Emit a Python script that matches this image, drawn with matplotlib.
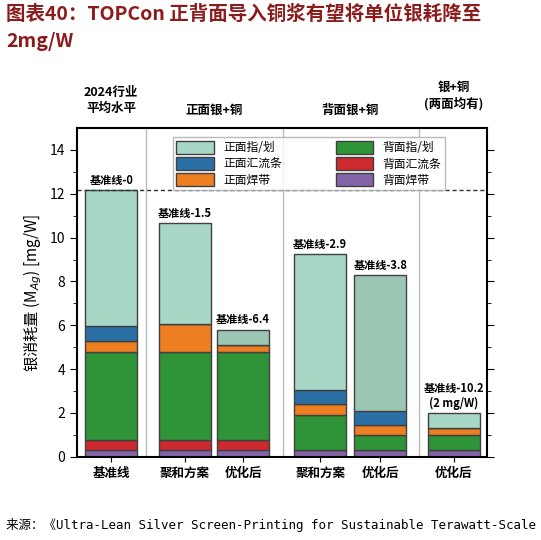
import matplotlib
matplotlib.use('Agg')
import matplotlib.pyplot as plt
import numpy as np

plt.rcParams['font.family'] = ['Noto Sans CJK SC', 'DejaVu Sans']

bars = ['基准线', '聚和方案', '优化后', '聚和方案', '优化后', '优化后']
back_solder = [0.3, 0.3, 0.3, 0.3, 0.3, 0.3]
back_busbar = [0.45, 0.45, 0.45, 0.0, 0.0, 0.0]
back_finger = [4.05, 4.05, 4.05, 1.6, 0.7, 0.7]
front_solder = [0.5, 1.25, 0.3, 0.5, 0.45, 0.3]
front_busbar = [0.65, 0.0, 0.0, 0.65, 0.65, 0.0]
front_finger = [6.2, 4.6, 0.7, 6.2, 6.2, 0.7]
top_labels = ['基准线-0', '基准线-1.5', '基准线-6.4', '基准线-2.9', '基准线-3.8', '基准线-10.2\n(2 mg/W)']
groups = ['2024行业\n平均水平', '正面银+铜', '背面银+铜', '银+铜\n(两面均有)']
baseline = 12.15

xpos = [0.78, 2.45, 3.77, 5.52, 6.88, 8.55]
width = 1.19

fig = plt.figure(figsize=(5.41, 5.40), dpi=100)
ax = fig.add_axes([0.142, 0.154, 0.758, 0.609])

layers = [
    (back_solder, '#8463a8', '背面焊带'),
    (back_busbar, '#cc2a2e', '背面汇流条'),
    (back_finger, '#2e9437', '背面指/划'),
    (front_solder, '#ee7e22', '正面焊带'),
    (front_busbar, '#2a70a6', '正面汇流条'),
    (front_finger, '#a7d8c6', '正面指/划'),
]
bottom = np.zeros(len(bars))
handles = {}
for vals, color, name in layers:
    cols = [color] * len(bars)
    if name == '正面指/划':
        cols[2] = '#9cc6b4'
        cols[4] = '#9cc6b4'
    h = ax.bar(xpos, vals, width, bottom=bottom, color=cols, edgecolor='#404040', linewidth=1.0)
    handles[name] = h
    bottom += np.array(vals)

for x, tot, lab in zip(xpos, bottom, top_labels):
    ax.text(x, tot + 0.15, lab, ha='center', va='bottom', fontsize=8, fontweight='bold')

ax.axhline(baseline, color='#333333', ls=(0, (3, 2)), lw=1.0)
for sx in [1.56, 4.67, 7.77]:
    ax.axvline(sx, color='#bbbbbb', lw=1.0)

ax.set_xlim(0, 9.3)
ax.set_ylim(0, 15)
ax.set_yticks(range(0, 15, 2))
ax.set_yticks(range(0, 15), minor=True)
ax.set_xticks(xpos)
ax.set_xticklabels(bars, fontsize=9, fontweight='bold')
ax.tick_params(axis='y', labelsize=10, right=True, which='both')
ax.tick_params(axis='y', which='major', length=5)
ax.tick_params(axis='y', which='minor', length=3)
ax.set_ylabel('银消耗量 (M$_{Ag}$) [mg/W]', fontsize=11)
for s in ax.spines.values():
    s.set_linewidth(1.5)

order = ['正面指/划', '正面汇流条', '正面焊带', '背面指/划', '背面汇流条', '背面焊带']
leg = ax.legend([handles[k] for k in order], order, ncol=2, loc='upper left',
                bbox_to_anchor=(0.22, 0.99), fontsize=8.5, frameon=True, fancybox=False,
                edgecolor='#aaaaaa', handlelength=3.2, handleheight=1.3, columnspacing=4.5,
                borderpad=0.3, labelspacing=0.25)

gx = [0.78, 3.11, 6.2, 8.55]
gy = [15.6, 15.5, 15.5, 15.8]
for x, y, g in zip(gx, gy, groups):
    ax.text(x, y, g, ha='center', va='bottom', fontsize=9, fontweight='bold', linespacing=1.3)

fig.text(0.012, 0.99, '图表40：TOPCon 正背面导入铜浆有望将单位银耗降至\n2mg/W', ha='left', va='top',
         fontsize=14, fontweight='bold', style='italic', color='#8c1c1c', linespacing=1.5)
fig.text(0.012, 0.015, '来源：《Ultra-Lean Silver Screen-Printing for Sustainable Terawatt-Scale',
         ha='left', va='bottom', fontsize=9, family=['DejaVu Sans Mono', 'Noto Sans CJK SC'])

fig.savefig('out.png', dpi=100)
